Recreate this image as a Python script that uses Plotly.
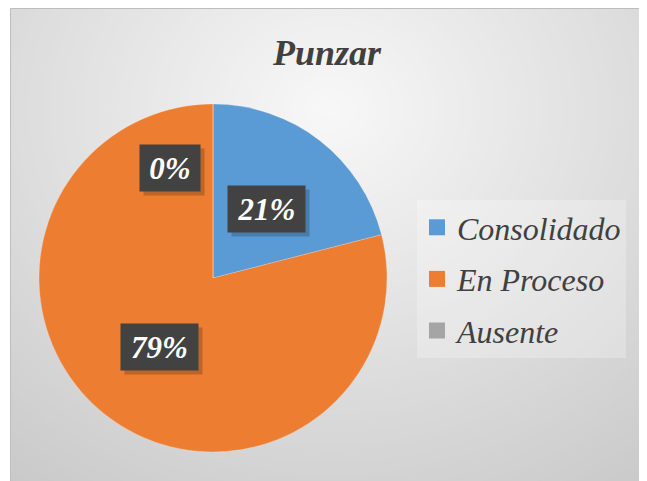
import math
import plotly.graph_objects as go

# ---- data ----
categories = ["Consolidado", "En Proceso", "Ausente"]
values = [21, 79, 0]
pct_labels = ["21%", "79%", "0%"]
title_text = "Punzar"

# ---- style ----
colors = ["#5B9BD5", "#ED7D31", "#A5A5A5"]
OFF = 8                      # page body margin
W, H = 647 - OFF, 481 - OFF  # figure size
FONT = "Liberation Serif"
TXT = "#404040"


def fx(px):
    return (px - OFF) / W


def fy(py):
    return 1 - (py - OFF) / H


# pie geometry (page pixels)
cx_px, cy_px, R = 213, 278, 174
label_rfrac = [0.5, 0.5, 0.68]

fig = go.Figure()

fig.add_trace(go.Pie(
    labels=categories, values=values, sort=False, direction="clockwise",
    rotation=0, marker=dict(colors=colors, line=dict(color="rgba(255,255,255,0.4)", width=0.5)),
    textinfo="none", hoverinfo="label+percent", showlegend=False,
    domain=dict(x=[fx(cx_px - R), fx(cx_px + R)],
                y=[fy(cy_px + R), fy(cy_px - R)]),
))

# legend entries (one per category)
for cat, col in zip(categories, colors):
    fig.add_trace(go.Scatter(
        x=[None], y=[None], mode="markers", name=cat, legendgroup=cat,
        marker=dict(symbol="square", size=16, color=col), showlegend=True,
    ))

# ---- background gradient ----
shapes = []
shapes.append(dict(type="rect", xref="paper", yref="paper", x0=0, x1=1, y0=0, y1=1,
                   fillcolor="#C6C6C6", line=dict(width=0), layer="below"))
gcx, gcy = 330, 110
for d in range(520, 0, -6):
    v = int(round(max(198, min(248, 248 - 0.1 * d))))
    c = f"rgb({v},{v},{v})"
    shapes.append(dict(type="circle", xref="paper", yref="paper",
                       x0=fx(gcx - d * 1.15), x1=fx(gcx + d * 1.15),
                       y0=fy(gcy + d), y1=fy(gcy - d),
                       fillcolor=c, line=dict(width=0), layer="below"))
# white outside the chart area
shapes.append(dict(type="rect", xref="paper", yref="paper", x0=-0.01, x1=fx(10), y0=0, y1=1,
                   fillcolor="white", line=dict(width=0), layer="below"))
shapes.append(dict(type="rect", xref="paper", yref="paper", x0=fx(646), x1=1.01, y0=0, y1=1,
                   fillcolor="white", line=dict(width=0), layer="below"))
shapes.append(dict(type="rect", xref="paper", yref="paper",
                   x0=fx(10.5), x1=fx(645.5), y0=-0.01, y1=fy(8.5),
                   fillcolor="rgba(0,0,0,0)", line=dict(color="#BDBDBD", width=1), layer="below"))

# ---- data labels ----
annotations = []
total = sum(values)
cum = 0
for i, (v, lab) in enumerate(zip(values, pct_labels)):
    mid = (cum + v / 2) / total * 2 * math.pi
    cum += v
    r = R * label_rfrac[i]
    if i == 2:
        mid -= 0.37
    px = cx_px + r * math.sin(mid)
    py = cy_px - r * math.cos(mid)
    wbox = 58 + 17 * (len(lab) - 2)
    common = dict(x=fx(px), y=fy(py), xref="paper", yref="paper",
                  xanchor="center", yanchor="middle", showarrow=False,
                  width=wbox, height=44)
    # shadow
    annotations.append(dict(common, text=" ", bgcolor="rgba(0,0,0,0.2)",
                            xshift=4, yshift=-4, font=dict(size=30, family=FONT)))
    annotations.append(dict(common, text=lab, bgcolor="#424242",
                            font=dict(size=31, family=FONT, color="white",
                                      weight="bold", style="italic")))

fig.update_layout(
    width=W, height=H,
    margin=dict(l=0, r=0, t=0, b=0),
    paper_bgcolor="white", plot_bgcolor="rgba(0,0,0,0)",
    xaxis=dict(visible=False, range=[0, 1], fixedrange=True),
    yaxis=dict(visible=False, range=[0, 1], fixedrange=True),
    title=dict(text=title_text, x=fx(327), xanchor="center",
               y=fy(52), yanchor="middle",
               font=dict(size=36, family=FONT, color=TXT, weight="bold", style="italic")),
    legend=dict(x=fx(417), xanchor="left", y=fy(200), yanchor="top",
                bgcolor="rgba(255,255,255,0.25)", borderwidth=0,
                font=dict(size=32, family=FONT, color=TXT, style="italic"),
                tracegroupgap=7, itemsizing="trace"),
    shapes=shapes, annotations=annotations,
)

fig.write_html("out.html")
